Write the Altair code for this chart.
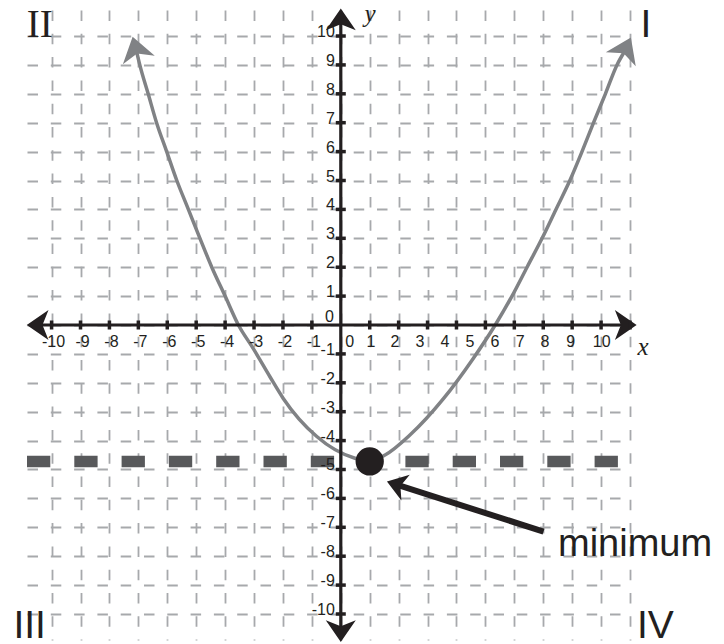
import altair as alt
import pandas as pd

# ---------------- values ----------------
neg_tick_values = [-10, -9, -8, -7, -6, -5, -4, -3, -2, -1]
pos_tick_values = [1, 2, 3, 4, 5, 6, 7, 8, 9, 10]
neg_tick_labels = ["-10", "-9", "-8", "-7", "-6", "-5", "-4", "-3", "-2", "-1"]
pos_tick_labels = ["1", "2", "3", "4", "5", "6", "7", "8", "9", "10"]
# in the original the positive x labels are squeezed to the left of their ticks
pos_x_label_at = [1.04, 1.87, 2.74, 3.60, 4.47, 5.33, 6.20, 7.06, 7.95, 9.02]
grid_values = list(range(-10, 11))

# parabola (hand drawn in the original), read point by point
curve_x = [-7.05, -6.95, -6.66, -6.37, -6.02, -5.67, -5.27, -4.87, -4.46, -4.00,
           -3.54, -3.03, -2.45, -1.99, -0.83, 0.49, 1.00, 1.53, 2.40, 3.55,
           4.55, 5.34, 5.92, 6.44, 6.96, 7.44, 7.92, 8.34, 8.74, 9.15, 9.55, 9.79]
curve_y = [9.42, 9.00, 8.00, 7.00, 6.00, 5.00, 4.00, 3.00, 2.00, 1.00,
           0.00, -0.81, -1.79, -2.54, -3.86, -4.61, -4.70, -4.50, -3.80, -2.55,
           -1.20, 0.00, 1.00, 2.00, 3.00, 4.00, 5.00, 6.00, 7.00, 8.00, 9.00, 9.43]

minimum_x = [1.0]
minimum_y = [-4.72]

axis_x_ends = [-10.34, 9.71]
axis_y_ends = [-10.45, 10.43]

pointer_x = [7.01, 2.04]
pointer_y = [-7.15, -5.56]

sans_quadrants = ["I", "III", "IV"]
sans_quadrant_x = [10.36, -11.32, 10.24]
sans_quadrant_y = [9.97, -10.83, -10.83]
serif_quadrants = ["II"]
serif_quadrant_x = [-10.86]
serif_quadrant_y = [9.97]

annotation_text = ["minimum"]
annotation_x = [7.51]
annotation_y = [-8.01]

axis_titles = ["x", "y"]
axis_title_x = [10.45, 1.01]
axis_title_y = [-1.04, 10.49]

# ---------------- tables ----------------
curve = pd.DataFrame({"x": curve_x, "y": curve_y})
all_ticks = pd.DataFrame({"v": neg_tick_values + pos_tick_values, "zero": 0})
neg_labels = pd.DataFrame({"v": neg_tick_values, "label": neg_tick_labels, "zero": 0})
pos_labels = pd.DataFrame({"v": pos_x_label_at, "label": pos_tick_labels, "zero": 0})
y_label_df = pd.DataFrame({"v": neg_tick_values + pos_tick_values,
                           "label": neg_tick_labels + pos_tick_labels, "zero": 0})
origin = pd.DataFrame({"x": [0], "y": [0], "label": ["0"]})
minimum = pd.DataFrame({"x": minimum_x, "y": minimum_y})
xaxis = pd.DataFrame({"x": [axis_x_ends[0]], "x2": [axis_x_ends[1]], "y": [0]})
yaxis = pd.DataFrame({"y": [axis_y_ends[0]], "y2": [axis_y_ends[1]], "x": [0]})
pointer = pd.DataFrame({"x": [pointer_x[0]], "y": [pointer_y[0]],
                        "x2": [pointer_x[1]], "y2": [pointer_y[1]]})
pointer_head = pd.DataFrame({"x": [pointer_x[1]], "y": [pointer_y[1]]})
quad_sans = pd.DataFrame({"x": sans_quadrant_x, "y": sans_quadrant_y, "label": sans_quadrants})
quad_serif = pd.DataFrame({"x": serif_quadrant_x, "y": serif_quadrant_y, "label": serif_quadrants})
annot = pd.DataFrame({"x": annotation_x, "y": annotation_y, "label": annotation_text})
titles = pd.DataFrame({"x": axis_title_x, "y": axis_title_y, "label": axis_titles})

BLACK = "#231f20"
GRAY = "#808285"
ARROW = "M0,-1L1,0.45L0,0.05L-1,0.45Z"

xs = alt.Scale(domain=[-10.85, 10.0], nice=False, zero=False)
ys = alt.Scale(domain=[-10.9, 10.9], nice=False, zero=False)

ax_x = alt.Axis(values=grid_values, grid=True, gridDash=[10.5, 12.8], gridColor="#a7a9ac",
                gridWidth=1.8, domain=False, ticks=False, labels=False, title="")
ax_y = alt.Axis(values=grid_values, grid=True, gridDash=[10.5, 12.8], gridColor="#a7a9ac",
                gridWidth=1.8, domain=False, ticks=False, labels=False, title="")


def X(f):
    return alt.X(f, type="quantitative", scale=xs, axis=ax_x)


def Y(f):
    return alt.Y(f, type="quantitative", scale=ys, axis=ax_y)


# dashed horizontal line through the minimum
dashed = alt.Chart(minimum).mark_rule(color="#58595b", strokeWidth=11.5,
                                      strokeDash=[23.3, 24], strokeCap="butt").encode(
    y=Y("y"), x=alt.value(0), x2=alt.value(603))

parabola = alt.Chart(curve).mark_line(color=GRAY, strokeWidth=3.5, interpolate="monotone").encode(
    x=X("x"), y=Y("y"))

head_left = alt.Chart(curve.iloc[[0]]).mark_point(shape=ARROW, filled=True, size=1089, angle=345,
                                                  color=GRAY, opacity=1, strokeWidth=0).encode(
    x=X("x"), y=Y("y"))
head_right = alt.Chart(curve.iloc[[-1]]).mark_point(shape=ARROW, filled=True, size=1089, angle=25,
                                                    color=GRAY, opacity=1, strokeWidth=0).encode(
    x=X("x"), y=Y("y"))

x_line = alt.Chart(xaxis).mark_rule(color=BLACK, strokeWidth=3.2).encode(
    x=X("x"), x2="x2", y=Y("y"))
y_line = alt.Chart(yaxis).mark_rule(color=BLACK, strokeWidth=3.2).encode(
    y=Y("y"), y2="y2", x=X("x"))


def axis_head(px, py, ang):
    d = pd.DataFrame({"x": [px], "y": [py]})
    return alt.Chart(d).mark_point(shape=ARROW, filled=True, size=900, angle=ang,
                                   color=BLACK, opacity=1, strokeWidth=0).encode(x=X("x"), y=Y("y"))


heads = [axis_head(axis_x_ends[1], 0, 90), axis_head(axis_x_ends[0], 0, 270),
         axis_head(0, axis_y_ends[1], 0), axis_head(0, axis_y_ends[0], 180)]

x_ticks = alt.Chart(all_ticks).mark_tick(orient="vertical", size=9, thickness=3.5, color=BLACK,
                                         opacity=1).encode(x=X("v"), y=Y("zero"))
y_ticks = alt.Chart(all_ticks).mark_tick(orient="horizontal", size=10, thickness=3.5, color=BLACK,
                                         opacity=1).encode(y=Y("v"), x=X("zero"))

FONT = "Liberation Sans, Arial, sans-serif"
x_labels_neg = alt.Chart(neg_labels).mark_text(align="center", baseline="alphabetic", dx=2, dy=22,
                                               fontSize=16, font=FONT, color=BLACK).encode(
    x=X("v"), y=Y("zero"), text="label")
x_labels_pos = alt.Chart(pos_labels).mark_text(align="center", baseline="alphabetic", dy=22,
                                               fontSize=16, font=FONT, color=BLACK).encode(
    x=X("v"), y=Y("zero"), text="label")
y_labels = alt.Chart(y_label_df).mark_text(align="right", baseline="alphabetic", dx=-6, dy=1,
                                           fontSize=16, font=FONT, color=BLACK).encode(
    x=X("zero"), y=Y("v"), text="label")
zero_x = alt.Chart(origin).mark_text(align="left", baseline="alphabetic", dx=4.5, dy=22,
                                     fontSize=16, font=FONT, color=BLACK).encode(
    x=X("x"), y=Y("y"), text="label")
zero_y = alt.Chart(origin).mark_text(align="right", baseline="alphabetic", dx=-7, dy=-3,
                                     fontSize=16, font=FONT, color=BLACK).encode(
    x=X("x"), y=Y("y"), text="label")

dot = alt.Chart(minimum).mark_circle(size=800, color=BLACK, opacity=1).encode(x=X("x"), y=Y("y"))

shaft = alt.Chart(pointer).mark_rule(color=BLACK, strokeWidth=6).encode(
    x=X("x"), y=Y("y"), x2="x2", y2="y2")
shaft_head = alt.Chart(pointer_head).mark_point(shape=ARROW, filled=True, size=729, angle=288,
                                                color=BLACK, opacity=1, strokeWidth=0).encode(
    x=X("x"), y=Y("y"))

quads_sans = alt.Chart(quad_sans).mark_text(align="left", baseline="alphabetic", fontSize=39,
                                            font=FONT, color=BLACK).encode(
    x=X("x"), y=Y("y"), text="label")
quads_serif = alt.Chart(quad_serif).mark_text(align="left", baseline="alphabetic", fontSize=39,
                                              font="Liberation Serif, Times New Roman, serif",
                                              color=BLACK).encode(
    x=X("x"), y=Y("y"), text="label")

annotation = alt.Chart(annot).mark_text(align="left", baseline="alphabetic", fontSize=38,
                                        font=FONT, color=BLACK).encode(
    x=X("x"), y=Y("y"), text="label")

axis_title_marks = alt.Chart(titles).mark_text(align="center", baseline="alphabetic", fontSize=25,
                                               font="Liberation Serif, Times New Roman, serif",
                                               fontStyle="italic", color=BLACK).encode(
    x=X("x"), y=Y("y"), text="label")

chart = alt.layer(
    dashed, parabola, head_left, head_right, x_line, y_line, *heads,
    x_ticks, y_ticks, x_labels_neg, x_labels_pos, y_labels, zero_x, zero_y,
    dot, shaft, shaft_head, quads_sans, quads_serif, annotation, axis_title_marks
).properties(
    width=603, height=630,
    padding={"left": 19, "top": 2, "right": 86, "bottom": 4},
    autosize=alt.AutoSizeParams(type="none"),
    background="white",
).configure_view(stroke=None)

chart.save("out.html", embed_options={"renderer": "svg", "actions": False})
